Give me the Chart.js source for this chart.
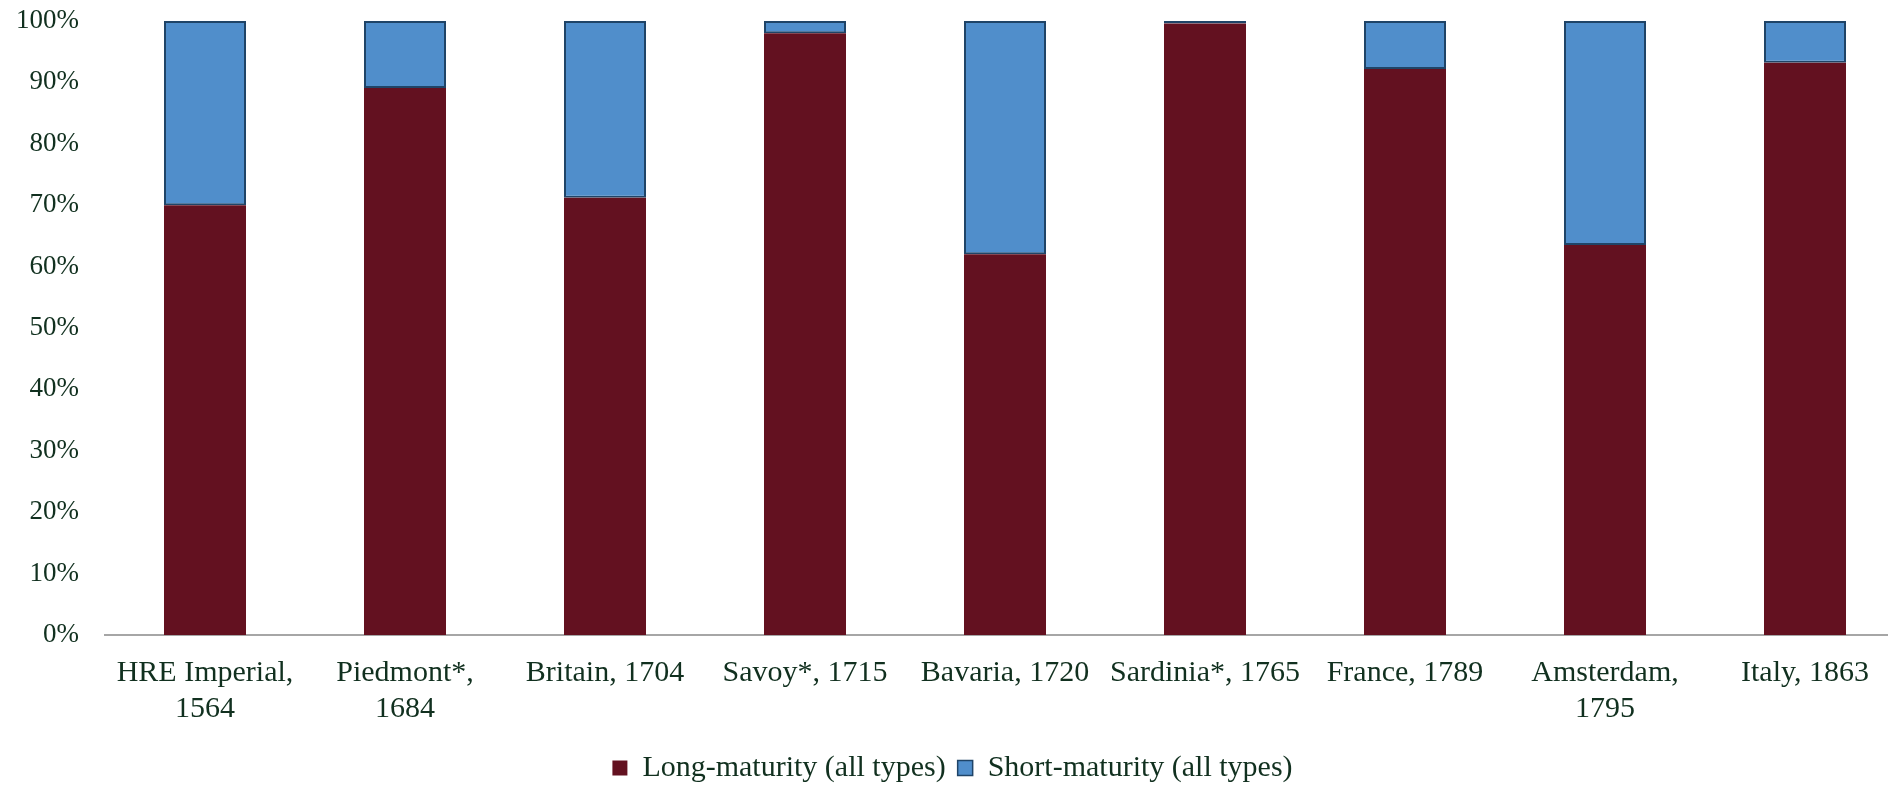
<!DOCTYPE html>
<html>
<head>
<meta charset="utf-8">
<script src="https://cdn.jsdelivr.net/npm/chart.js@4/dist/chart.umd.min.js"></script>
<style>
  html, body { margin: 0; padding: 0; background: #ffffff; overflow: hidden; }
  #wrap { width: 1905px; height: 786px; }
</style>
</head>
<body>
<div id="wrap"><canvas id="chart" width="1905" height="786"></canvas></div>
<script>
// Debt composition by maturity, share of total
const categories = [
  ["HRE Imperial,", "1564"],
  ["Piedmont*,", "1684"],
  "Britain, 1704",
  "Savoy*, 1715",
  "Bavaria, 1720",
  "Sardinia*, 1765",
  "France, 1789",
  ["Amsterdam,", "1795"],
  "Italy, 1863"
];
const longMaturity  = [70.0, 89.1, 71.2, 98.0, 62.0, 99.6, 92.2, 63.5, 93.2];
const shortMaturity = [30.0, 10.9, 28.8,  2.0, 38.0,  0.4,  7.8, 36.5,  6.8];
const yTicks = [0, 10, 20, 30, 40, 50, 60, 70, 80, 90, 100];

const textColor = '#11301f';
const fontFamily = '"Liberation Serif", "DejaVu Serif", serif';
const shortBorder = '#1f4467';

new Chart(document.getElementById('chart'), {
  type: 'bar',
  data: {
    labels: categories,
    datasets: [
      {
        label: 'Long-maturity (all types)',
        data: longMaturity,
        backgroundColor: '#631120',
        borderColor: '#631120',
        borderWidth: 0,
        barPercentage: 0.82,
        categoryPercentage: 0.5
      },
      {
        label: 'Short-maturity (all types)',
        data: shortMaturity,
        backgroundColor: '#508ecb',
        borderColor: shortBorder,
        borderWidth: 2,
        borderSkipped: false,
        barPercentage: 0.82,
        categoryPercentage: 0.5
      }
    ]
  },
  options: {
    responsive: false,
    devicePixelRatio: 1,
    animation: false,
    layout: { padding: { top: 21, right: 0, left: 0, bottom: -7 } },
    plugins: {
      tooltip: { enabled: false },
      legend: {
        position: 'bottom',
        labels: {
          color: textColor,
          font: { family: fontFamily, size: 30 },
          boxWidth: 15,
          boxHeight: 15,
          padding: 12,
          generateLabels: (chart) => chart.data.datasets.map((ds, i) => ({
            text: ds.label,
            fillStyle: ds.backgroundColor,
            strokeStyle: i === 1 ? shortBorder : '#631120',
            lineWidth: i === 1 ? 1.5 : 0,
            fontColor: textColor,
            datasetIndex: i,
            hidden: false
          }))
        }
      }
    },
    scales: {
      x: {
        stacked: true,
        grid: { display: false, drawTicks: false },
        border: { display: true, color: '#a6a6a6', width: 2 },
        ticks: {
          color: textColor,
          font: { family: fontFamily, size: 30, lineHeight: 1.2 },
          padding: 20,
          maxRotation: 0,
          autoSkip: false
        },
        afterFit: (s) => { s.height = 106; }
      },
      y: {
        stacked: true,
        min: 0,
        max: 100,
        afterBuildTicks: (s) => { s.ticks = yTicks.map(v => ({ value: v })); },
        grid: { display: false, drawTicks: false },
        border: { display: false },
        ticks: {
          color: textColor,
          font: { family: fontFamily, size: 27 },
          padding: 26,
          callback: (v) => v + '%'
        },
        afterFit: (s) => { s.width = 105; s.paddingTop = 0; s.paddingBottom = 0; }
      }
    }
  }
});
</script>
</body>
</html>
